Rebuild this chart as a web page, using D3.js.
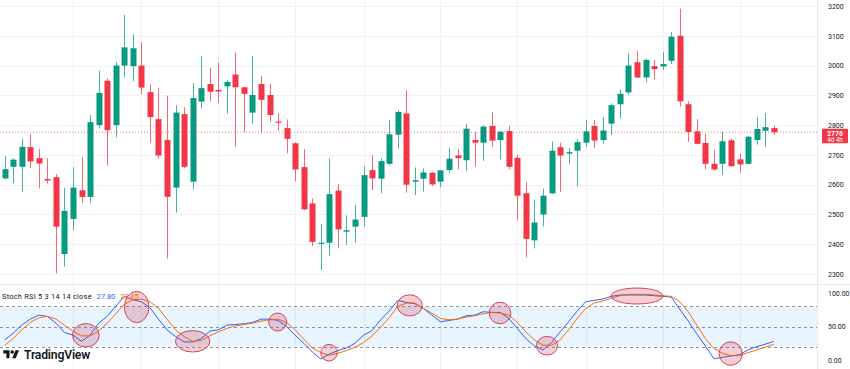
<!DOCTYPE html>
<html>
<head>
<meta charset="utf-8">
<script src="https://cdn.jsdelivr.net/npm/d3@7"></script>
<style>
  body { margin: 0; background: #fff; }
  svg { display: block; font-family: Roboto, "Noto Sans", sans-serif; }
</style>
</head>
<body>
<svg id="chart" width="850" height="369"></svg>
<script>
// weekly candles
var opens  = [2621,2660,2660,2726,2689,2619,2625,2367,2485,2581,2559,2800,2949,2800,3000,2998,3000,2911,2820,2750,
              2590,2837,2610,2879,2938,2918,2930,2970,2927,2842,2938,2901,2812,2790,2739,2659,2537,2401,2405,2580,
              2442,2459,2492,2649,2620,2670,2768,2839,2610,2620,2640,2610,2649,2698,2682,2750,2741,2797,2750,2780,
              2690,2571,2413,2500,2571,2726,2704,2714,2741,2797,2750,2805,2870,2910,3011,2960,2998,2997,3016,3100,
              2870,2779,2740,2670,2670,2749,2685,2670,2750,2781,2790];
var highs  = [2696,2688,2755,2769,2720,2689,2635,2590,2658,2694,2834,2982,2957,3011,3170,3105,3079,2937,2924,2899,
              2867,2860,2941,3032,2992,3010,2951,3043,2930,3032,2965,2938,2839,2819,2742,2720,2554,2468,2688,2602,
              2497,2531,2662,2699,2688,2817,2851,2917,2658,2655,2642,2650,2723,2721,2804,2778,2799,2844,2780,2797,
              2699,2608,2550,2587,2746,2741,2723,2752,2817,2817,2827,2873,2920,3041,3050,3024,3019,3045,3113,3191,
              2881,2820,2770,2718,2777,2755,2705,2763,2826,2840,2799];
var lows   = [2618,2604,2576,2655,2587,2604,2302,2324,2447,2539,2540,2789,2664,2759,2960,2947,2903,2741,2688,2352,
              2506,2655,2584,2856,2879,2875,2839,2727,2776,2804,2774,2811,2780,2705,2612,2514,2394,2313,2361,2386,
              2397,2405,2459,2582,2571,2665,2721,2573,2565,2577,2595,2591,2640,2651,2647,2660,2680,2727,2685,2651,
              2480,2356,2386,2459,2568,2576,2669,2595,2727,2724,2739,2767,2823,2902,2958,2944,2954,2986,3005,2862,
              2744,2735,2651,2646,2633,2660,2640,2667,2734,2727,2767];
var closes = [2652,2684,2727,2678,2671,2614,2459,2512,2590,2559,2810,2908,2783,3000,3061,3058,2926,2827,2698,2559,
              2842,2660,2891,2924,2912,2913,2945,2927,2905,2901,2885,2834,2808,2754,2651,2517,2408,2405,2568,2450,
              2447,2483,2632,2621,2679,2769,2844,2600,2615,2641,2601,2648,2687,2689,2788,2741,2795,2748,2778,2660,
              2563,2418,2473,2563,2714,2698,2709,2743,2779,2748,2782,2867,2905,3000,2960,3019,2988,3005,3097,2880,
              2777,2737,2670,2651,2746,2662,2668,2761,2787,2793,2776];

// Stoch RSI 5 3 14 14: %K (blue) and %D (orange)
var kValues = [30,40,52,61,67,65,55,41,37,28,37,55,65,80,95,90,87,78,61,45,
               35,27,27,32,43,45,52,53,54,56,61,61,59,50,37,25,12,1.5,9,14,
               18,25,37,44,60,73,89,86,84,77,67,57,59,61,66,67,72,71,71,62,
               47,32,21,15,26,42,57,73,87,89,91,95,97,97,97,97,96,95,94,76,
               58,39,21,2,4,6,8,15,20,23.5,27.8];
var dValues = [22,32,45,56,63,65,61,52,43,36,36,43,55,69,83,90,91,87,77,61,
               45,35,28,29,36,42,47,51,53,55,58,60,61,56,45,31,18,11,7,10,
               14,19,26,36,49,63,80,85,85,77,70,62,60,61,64,66,69,71,70,67,
               56,42,30,22,22,30,45,62,77,85,88,92,96,98,98,98,97,96,95,87,
               72,52,32,17,10,6.5,6.5,11,15,19,23.45];

var priceTicks = [2300,2400,2500,2600,2700,2800,2900,3000,3100,3200];
var rsiTicks = [0,50,100];
var rsiLevels = [20,50,80];
var gridIdx = [8,16,25,34,42,51,60,68,77,86];

// hand drawn circles on the indicator (centre in candle index / value, radius in same units)
var ellCx = [9.5,15.45,22,31.95,37.96,47.4,57.97,63.47,74,84.97];
var ellCy = [36.9,79.1,27.9,56.7,10.9,81.5,70.1,21.3,95.5,9.6];
var ellRx = [1.56,1.44,2.02,1.05,0.97,1.46,1.27,1.24,3.04,1.36];
var ellRy = [17.5,23.4,16,13.4,12.4,15.8,16,13.9,11.9,17.5];

var up = "#089981", down = "#F23645";
var W = 850, H = 369, plotR = 817;

var svg = d3.select("#chart");
svg.append("rect").attr("width", W).attr("height", H).attr("fill", "#fff");

var x = d3.scaleLinear().domain([0, 90]).range([4.67, 773.7]);
var yP = d3.scaleLinear().domain([2300, 3200]).range([274, 6]);
var yR = d3.scaleLinear().domain([0, 100]).range([360, 293]);

// grille
var grid = svg.append("g");
grid.selectAll(".hg").data(priceTicks).enter().append("line")
  .attr("x1", 0).attr("x2", plotR)
  .attr("y1", function(d) { return Math.round(yP(d)) + 0.5; })
  .attr("y2", function(d) { return Math.round(yP(d)) + 0.5; })
  .attr("stroke", "#eef1f6");
grid.selectAll(".vg").data(gridIdx).enter().append("line")
  .attr("x1", function(d) { return Math.round(x(d)) + 0.5; })
  .attr("x2", function(d) { return Math.round(x(d)) + 0.5; })
  .attr("y1", 0).attr("y2", H)
  .attr("stroke", "#eef1f6");

// séparateurs
svg.append("line").attr("x1", 0).attr("x2", W).attr("y1", 284.5).attr("y2", 284.5).attr("stroke", "#e6e9ef");
svg.append("line").attr("x1", plotR + 0.5).attr("x2", plotR + 0.5).attr("y1", 0).attr("y2", H).attr("stroke", "#e6e9ef");

// bougies
var candles = svg.append("g");
closes.forEach(function(c, i) {
  var o = opens[i], col = c >= o ? up : down;
  var cx = Math.round(x(i)) + 0.5;
  candles.append("line")
    .attr("x1", cx).attr("x2", cx)
    .attr("y1", yP(highs[i])).attr("y2", yP(lows[i]))
    .attr("stroke", col).attr("stroke-opacity", 0.75);
  var top = yP(Math.max(o, c)), bot = yP(Math.min(o, c));
  candles.append("rect")
    .attr("x", cx - 3).attr("width", 6)
    .attr("y", top).attr("height", Math.max(1, bot - top))
    .attr("fill", col);
});

// ligne du dernier prix
var last = closes[closes.length - 1];
svg.append("line")
  .attr("x1", 0).attr("x2", plotR)
  .attr("y1", yP(last)).attr("y2", yP(last))
  .attr("stroke", down).attr("stroke-width", 0.8)
  .attr("stroke-dasharray", "1,2").attr("opacity", 0.8);

// axe des prix
var axP = svg.append("g").attr("transform", "translate(" + plotR + ",0)")
  .call(d3.axisRight(yP).tickValues(priceTicks).tickSize(0).tickPadding(11).tickFormat(d3.format("d")));
axP.select(".domain").remove();
axP.selectAll("text").attr("font-size", 7).attr("fill", "#131722").attr("font-family", "Roboto, sans-serif");

// étiquette du prix
svg.append("rect").attr("x", 822).attr("y", yP(last) - 3.6).attr("width", 26).attr("height", 14.6)
  .attr("fill", down).attr("rx", 1);
svg.append("text").attr("x", 835).attr("y", yP(last) + 3.4).attr("text-anchor", "middle")
  .attr("font-size", 7).attr("font-weight", 700).attr("fill", "#fff").text(last);
svg.append("text").attr("x", 835).attr("y", yP(last) + 9.8).attr("text-anchor", "middle")
  .attr("font-size", 6.3).attr("fill", "#fff").text("4d 4h");

// panneau Stoch RSI
svg.append("rect").attr("x", 0).attr("width", plotR)
  .attr("y", yR(80)).attr("height", yR(20) - yR(80))
  .attr("fill", "#2196f3").attr("fill-opacity", 0.1);
svg.selectAll(".lvl").data(rsiLevels).enter().append("line")
  .attr("x1", 0).attr("x2", plotR)
  .attr("y1", function(d) { return Math.round(yR(d)) + 0.5; })
  .attr("y2", function(d) { return Math.round(yR(d)) + 0.5; })
  .attr("stroke", "#8f929b").attr("stroke-dasharray", "3,3");

var line = d3.line().x(function(d, i) { return x(i); }).y(function(d) { return yR(d); });
svg.append("path").datum(kValues).attr("d", line)
  .attr("fill", "none").attr("stroke", "#2962FF").attr("stroke-width", 1);
svg.append("path").datum(dValues).attr("d", line)
  .attr("fill", "none").attr("stroke", "#FF6D00").attr("stroke-width", 1);

var axR = svg.append("g").attr("transform", "translate(" + plotR + ",0)")
  .call(d3.axisRight(yR).tickValues(rsiTicks).tickSize(0).tickPadding(11).tickFormat(d3.format(".2f")));
axR.select(".domain").remove();
axR.selectAll("text").attr("font-size", 7).attr("fill", "#131722").attr("font-family", "Roboto, sans-serif");

// cercles
svg.selectAll(".ell").data(ellCx).enter().append("ellipse")
  .attr("cx", function(d) { return x(d); })
  .attr("cy", function(d, i) { return yR(ellCy[i]); })
  .attr("rx", function(d, i) { return x(d + ellRx[i]) - x(d); })
  .attr("ry", function(d, i) { return yR(0) - yR(ellRy[i]); })
  .attr("fill", "rgb(200,40,70)").attr("fill-opacity", 0.22)
  .attr("stroke", "#d64556").attr("stroke-width", 1);

// légende
var leg = svg.append("text").attr("x", 2).attr("y", 298.5).attr("font-size", 7.3);
leg.append("tspan").attr("fill", "#131722").attr("letter-spacing", 0.3).text("Stoch RSI 5 3 14 14 close");
leg.append("tspan").attr("dx", 5).attr("fill", "#2962FF").text(kValues[kValues.length - 1].toFixed(2));
leg.append("tspan").attr("dx", 5).attr("fill", "#FF6D00").text(dValues[dValues.length - 1].toFixed(2));

// logo
var logo = svg.append("g");
logo.append("path").attr("transform", "translate(3.3,348.5) scale(0.444)")
  .attr("d", "M14 22H7V11H0V4h14v18zM28 22h-8l7.5-18h8L28 22z").attr("fill", "#131722");
logo.append("circle").attr("transform", "translate(3.3,348.5) scale(0.444)")
  .attr("cx", 20).attr("cy", 8).attr("r", 4).attr("fill", "#131722");
logo.append("text").attr("x", 24).attr("y", 359.3).attr("font-size", 12.2).attr("font-weight", 600)
  .attr("fill", "#131722").attr("letter-spacing", -0.2).text("TradingView");
</script>
</body>
</html>
